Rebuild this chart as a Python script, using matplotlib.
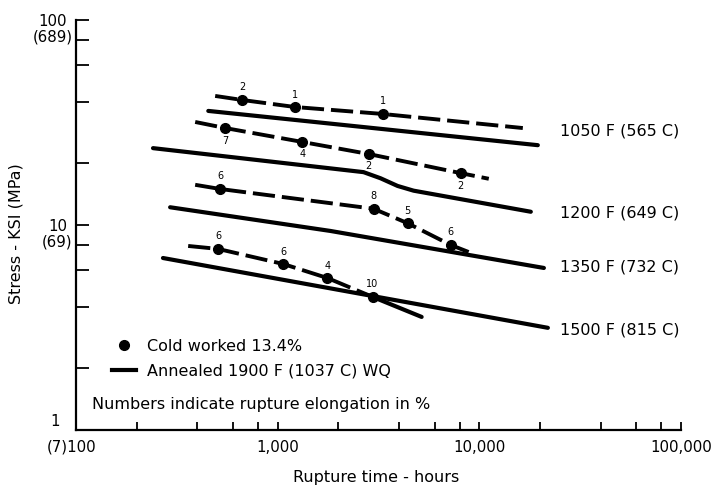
import matplotlib
matplotlib.use('Agg')
import matplotlib.pyplot as plt
from matplotlib.ticker import LogLocator, NullFormatter, FixedLocator, FixedFormatter
from matplotlib.lines import Line2D

plt.rcParams['font.family'] = ['DejaVu Sans']
plt.rcParams['lines.scale_dashes'] = False

# ---------------- data ----------------
temp_labels = ['1050 F (565 C)', '1200 F (649 C)', '1350 F (732 C)', '1500 F (815 C)']
temp_label_x = 25000
temp_label_y = [28.7, 11.4, 6.24, 3.07]

# Cold worked 13.4% : rupture points (hours, ksi) and elongation (%)
cw1050_x = [668, 1224, 3313]
cw1050_y = [40.7, 37.6, 34.8]
cw1050_el = ['2', '1', '1']
cw1050_line_x = [490, 668, 1224, 3313, 16430]
cw1050_line_y = [42.6, 40.7, 37.6, 34.8, 29.7]

cw1200_x = [550, 1327, 2822, 8085]
cw1200_y = [29.7, 25.4, 22.2, 17.9]
cw1200_el = ['7', '4', '2', '2']
cw1200_line_x = [390, 550, 1327, 2822, 8085, 11140]
cw1200_line_y = [31.8, 29.7, 25.4, 22.2, 17.9, 16.8]

cw1350_x = [519, 2988, 4410, 7210]
cw1350_y = [14.98, 12.0, 10.2, 7.99]
cw1350_el = ['6', '8', '5', '6']
cw1350_line_x = [390, 519, 2988, 4410, 7210, 8850]
cw1350_line_y = [15.7, 14.98, 12.0, 10.2, 7.99, 7.38]

cw1500_x = [507, 1067, 1766, 2954]
cw1500_y = [7.64, 6.45, 5.51, 4.46]
cw1500_el = ['6', '6', '4', '10']
cw1500_line_x = [360, 507, 1067, 1766, 2954]
cw1500_line_y = [7.90, 7.64, 6.45, 5.51, 4.46]
cw1500_tail_x = [2954, 5175]
cw1500_tail_y = [4.46, 3.56]

# Annealed 1900 F (1037 C) WQ : rupture curves
an1050_x = [453, 19500]
an1050_y = [36.0, 24.5]
an1200_x = [241, 2666, 3236, 3933, 4720, 18000]
an1200_y = [23.7, 18.1, 16.9, 15.5, 14.7, 11.6]
an1350_x = [293, 1827, 20900]
an1350_y = [12.2, 9.35, 6.17]
an1500_x = [270, 21870]
an1500_y = [6.90, 3.15]

x_ticks = [100, 1000, 10000, 100000]
x_ticklabels = ['', '1,000', '10,000', '100,000']
y_ticks = [10, 100]
y_ticklabels = ['10', '100']
y_mpa = {100: '(689)', 10: '(69)'}

# ---------------- figure ----------------
fig = plt.figure(figsize=(7.14, 4.88), dpi=100)
ax = fig.add_axes([0.1064, 0.1189, 0.8474, 0.8402])
ax.set_xscale('log')
ax.set_yscale('log')
ax.set_xlim(100, 100000)
ax.set_ylim(1, 100)

for s in ['top', 'right']:
    ax.spines[s].set_visible(False)
for s in ['left', 'bottom']:
    ax.spines[s].set_linewidth(1.6)

LW = 3.0
DASH = (16, 5)
cw_sets = [
    (cw1050_line_x, cw1050_line_y, cw1050_x, cw1050_y, cw1050_el, 'above'),
    (cw1200_line_x, cw1200_line_y, cw1200_x, cw1200_y, cw1200_el, 'below'),
    (cw1350_line_x, cw1350_line_y, cw1350_x, cw1350_y, cw1350_el, 'above'),
    (cw1500_line_x, cw1500_line_y, cw1500_x, cw1500_y, cw1500_el, 'above'),
]
for lx, ly, px, py, el, pos in cw_sets:
    ax.plot(lx, ly, color='black', lw=2.8, dashes=DASH, solid_capstyle='butt')
    ax.plot(px, py, 'o', color='black', ms=7)
    for x, y, t in zip(px, py, el):
        dy = 9 if pos == 'above' else -9
        ax.annotate(t, (x, y), xytext=(0, dy), textcoords='offset points',
                    ha='center', va='center', fontsize=7)

ax.plot(cw1500_tail_x, cw1500_tail_y, color='black', lw=LW, solid_capstyle='round')

for ax_x, ax_y in [(an1050_x, an1050_y), (an1200_x, an1200_y),
                   (an1350_x, an1350_y), (an1500_x, an1500_y)]:
    ax.plot(ax_x, ax_y, color='black', lw=LW, solid_capstyle='round')

TXT = 11.5
for t, y in zip(temp_labels, temp_label_y):
    ax.text(temp_label_x, y, t, ha='left', va='center', fontsize=TXT)

# ticks
ax.xaxis.set_major_locator(FixedLocator(x_ticks))
ax.xaxis.set_major_formatter(FixedFormatter(x_ticklabels))
ax.xaxis.set_minor_locator(LogLocator(base=10, subs=[2, 4, 6, 8]))
ax.xaxis.set_minor_formatter(NullFormatter())
ax.yaxis.set_major_locator(FixedLocator(y_ticks))
ax.yaxis.set_major_formatter(FixedFormatter(y_ticklabels))
ax.yaxis.set_minor_locator(LogLocator(base=10, subs=[2, 4, 6, 8]))
ax.yaxis.set_minor_formatter(NullFormatter())
ax.tick_params(axis='x', which='both', direction='in', length=6, width=1.3,
               labelsize=10.8, pad=7.5)
ax.tick_params(axis='y', which='both', direction='in', length=9, width=1.3,
               labelsize=10.8, pad=6.5)

for v, t in y_mpa.items():
    ax.annotate(t, xy=(0, v), xycoords=('axes fraction', 'data'),
                xytext=(-2.5, -12), textcoords='offset points',
                ha='right', va='center', fontsize=10.8)
ax.annotate('1', xy=(0, 1), xycoords=('axes fraction', 'data'),
            xytext=(-15, 6), textcoords='offset points',
            ha='center', va='center', fontsize=10.8)
ax.annotate('(7)100', xy=(0, 0), xycoords='axes fraction',
            xytext=(-3.2, -12.3), textcoords='offset points',
            ha='center', va='center', fontsize=10.8)

ax.set_xlabel('Rupture time - hours', fontsize=TXT, va='center')
ax.xaxis.set_label_coords(0.496, -0.117)
ax.set_ylabel('Stress - KSI (MPa)', fontsize=TXT, va='center')
ax.yaxis.set_label_coords(-0.099, 0.478)

# legend
handles = [Line2D([], [], marker='o', linestyle='none', color='black', ms=7),
           Line2D([], [], color='black', lw=LW)]
leg = ax.legend(handles, ['Cold worked 13.4%', 'Annealed 1900 F (1037 C) WQ'],
                loc='center left', bbox_to_anchor=(0.060, 0.174), frameon=False,
                fontsize=TXT, handlelength=1.5, handletextpad=0.7,
                labelspacing=0.6, borderpad=0, borderaxespad=0)
ax.text(0.026, 0.061, 'Numbers indicate rupture elongation in %', transform=ax.transAxes,
        ha='left', va='center', fontsize=TXT)

fig.savefig('out.png', dpi=100)
